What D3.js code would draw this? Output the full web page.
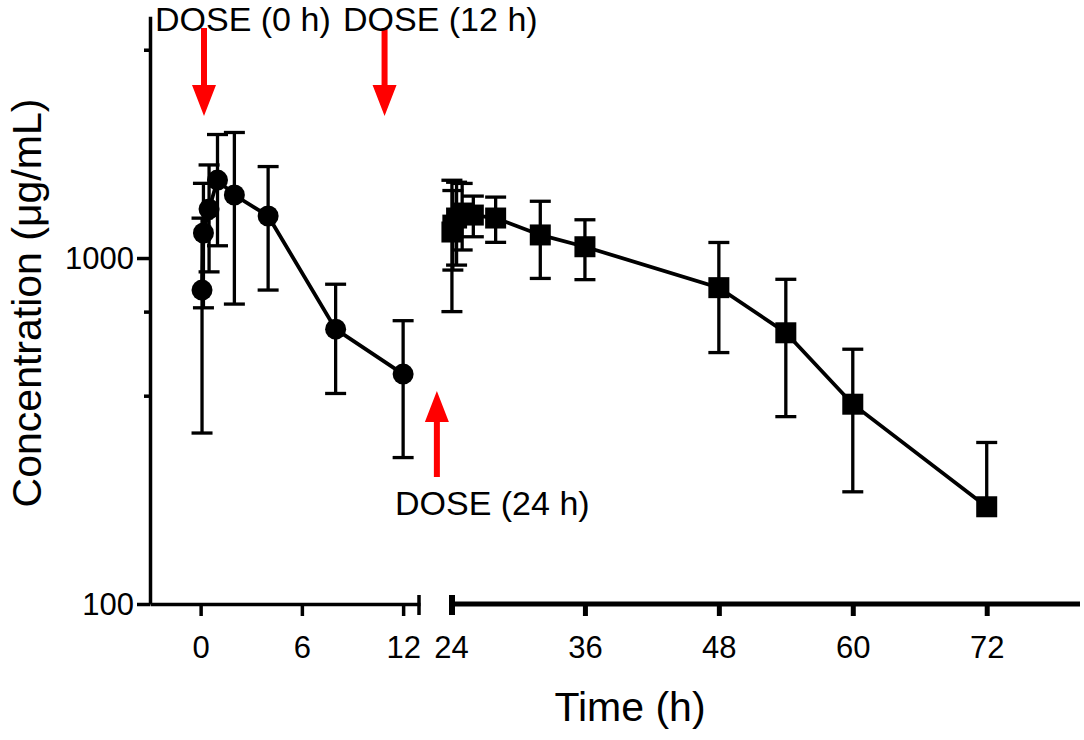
<!DOCTYPE html>
<html>
<head>
    <meta charset="utf-8">
    <script src="https://d3js.org/d3.v7.min.js"></script>
    <style>
        body{
            margin: 0;
            background: #fff;
        }
        svg text{
            font-family: "Liberation Sans", Arial, sans-serif;
            fill: #000;
        }
    </style>
    <title>Concentration vs time</title>
</head>
<body>
    <div class="chart-wrap"></div>

    <script>
    // first dosing interval (0-12 h), circles
    var timeA = [0.083, 0.167, 0.5, 1, 2, 4, 8, 12];
    var concA = [808, 1181, 1385, 1680, 1521, 1323, 623, 462];
    var sdA   = [496, 463, 473, 595, 785, 515, 217, 197];

    // after the 24 h dose, squares
    var timeB = [24.083, 24.167, 24.5, 25, 26, 28, 32, 36, 48, 54, 60, 72];
    var concB = [1189, 1245, 1305, 1349, 1331, 1305, 1166, 1078, 821, 608, 378, 191];
    var sdB   = [489, 322, 351, 294, 179, 195, 293, 212, 288, 260, 167, 102];

    var xTicksA = [0, 6, 12];
    var xTicksB = [24, 36, 48, 60, 72];
    var yMajor = [100, 1000];
    var yMinor = [400, 700, 4000];

    var doseLabels = ["DOSE (0 h)", "DOSE (12 h)", "DOSE (24 h)"];

    var w = 1084,
        h = 740;

    var svg = d3.select(".chart-wrap").append("svg")
        .attr("width", w)
        .attr("height", h);

    var xA = d3.scaleLinear().domain([-3, 13]).range([150, 420]);
    var xB = d3.scaleLinear().domain([24, 80]).range([451, 1076]);
    var y = d3.scaleLog().domain([100, 5000]).range([604, 16.2]);

    var axisW = 3.5;

    // ---- y axis
    var gy = svg.append("g")
        .attr("transform", "translate(150,0)")
        .call(d3.axisLeft(y).tickValues(yMajor).tickFormat(d3.format("d"))
            .tickSize(13).tickSizeOuter(0).tickPadding(3));
    gy.select(".domain").attr("stroke-width", axisW);
    gy.selectAll(".tick line").attr("stroke-width", axisW);
    gy.selectAll(".tick text")
        .style("font-size", "31px")
        .attr("dy", "0.35em");

    var gyMinor = svg.append("g")
        .attr("transform", "translate(150,0)")
        .call(d3.axisLeft(y).tickValues(yMinor).tickFormat("").tickSize(6).tickSizeOuter(0));
    gyMinor.select(".domain").remove();
    gyMinor.selectAll(".tick line").attr("stroke-width", axisW);

    // ---- x axis, left piece
    var gxA = svg.append("g")
        .attr("transform", "translate(0,604)")
        .call(d3.axisBottom(xA).tickValues(xTicksA).tickSize(12).tickSizeOuter(0).tickPadding(20));
    gxA.select(".domain").attr("stroke-width", axisW);
    gxA.selectAll(".tick line").attr("stroke-width", axisW);
    gxA.selectAll(".tick text").style("font-size", "31px");

    // ---- x axis, right piece (thicker, as in the original)
    var gxB = svg.append("g")
        .attr("transform", "translate(0,604)")
        .call(d3.axisBottom(xB).tickValues(xTicksB).tickSize(12).tickSizeOuter(0).tickPadding(20));
    gxB.select(".domain").attr("stroke-width", 5)
        .attr("d", "M" + xB.range()[0] + ",0H" + (xB.range()[1] + 4));
    gxB.selectAll(".tick line").attr("stroke-width", 5)
        .attr("y2", function (d) { return d === 24 ? 0 : 12; });
    gxB.selectAll(".tick text").style("font-size", "31px");

    // break caps
    svg.append("line")
        .attr("x1", xA(13) - 1).attr("x2", xA(13) - 1)
        .attr("y1", 595).attr("y2", 615)
        .attr("stroke", "#000").attr("stroke-width", axisW);
    svg.append("line")
        .attr("x1", xB(24) + 1).attr("x2", xB(24) + 1)
        .attr("y1", 595).attr("y2", 615)
        .attr("stroke", "#000").attr("stroke-width", 6);

    // ---- series
    function series (xs, times, conc, sd, shape) {
        var pts = times.map(function (t, i) {
            return {t: t, c: conc[i], sd: sd[i]};
        });
        var g = svg.append("g");
        var capW = 10.5;
        var lo = y.domain()[0];

        var eb = g.selectAll(".eb").data(pts).enter().append("g")
            .attr("class", "eb")
            .attr("stroke", "#000")
            .attr("stroke-width", 3.3);
        eb.append("line")
            .attr("x1", function (d) { return xs(d.t); })
            .attr("x2", function (d) { return xs(d.t); })
            .attr("y1", function (d) { return y(d.c + d.sd); })
            .attr("y2", function (d) { return d.c - d.sd > lo ? y(d.c - d.sd) : y(d.c); });
        eb.append("line")
            .attr("x1", function (d) { return xs(d.t) - capW; })
            .attr("x2", function (d) { return xs(d.t) + capW; })
            .attr("y1", function (d) { return y(d.c + d.sd); })
            .attr("y2", function (d) { return y(d.c + d.sd); });
        eb.filter(function (d) { return d.c - d.sd > lo; })
            .append("line")
            .attr("x1", function (d) { return xs(d.t) - capW; })
            .attr("x2", function (d) { return xs(d.t) + capW; })
            .attr("y1", function (d) { return y(d.c - d.sd); })
            .attr("y2", function (d) { return y(d.c - d.sd); });

        g.append("path")
            .datum(pts)
            .attr("fill", "none")
            .attr("stroke", "#000")
            .attr("stroke-width", 3.8)
            .attr("d", d3.line()
                .x(function (d) { return xs(d.t); })
                .y(function (d) { return y(d.c); }));

        if (shape === "circle") {
            g.selectAll(".pt").data(pts).enter().append("circle")
                .attr("cx", function (d) { return xs(d.t); })
                .attr("cy", function (d) { return y(d.c); })
                .attr("r", 10.5)
                .attr("fill", "#000");
        } else {
            g.selectAll(".pt").data(pts).enter().append("rect")
                .attr("x", function (d) { return xs(d.t) - 10.5; })
                .attr("y", function (d) { return y(d.c) - 10.5; })
                .attr("width", 21)
                .attr("height", 21)
                .attr("fill", "#000");
        }
    }

    series(xA, timeA, concA, sdA, "circle");
    series(xB, timeB, concB, sdB, "square");

    // ---- dose arrows
    function arrow (x, yTail, yTip) {
        var dir = yTip > yTail ? 1 : -1,
            headL = 31, headW = 12, shaft = 3;
        var yb = yTip - dir * headL;
        var p = "M" + (x - shaft) + "," + yTail +
            "L" + (x + shaft) + "," + yTail +
            "L" + (x + shaft) + "," + yb +
            "L" + (x + headW) + "," + yb +
            "L" + x + "," + yTip +
            "L" + (x - headW) + "," + yb +
            "L" + (x - shaft) + "," + yb + "Z";
        svg.append("path").attr("d", p).attr("fill", "#ff0000");
    }

    arrow(xA(0.2), 28, 116);
    arrow(xA(10.9), 28, 116);
    arrow(xA(14), 477, 391);

    svg.append("text").attr("x", 155).attr("y", 31)
        .style("font-size", "34px").text(doseLabels[0]);
    svg.append("text").attr("x", 343).attr("y", 31)
        .style("font-size", "34px").text(doseLabels[1]);
    svg.append("text").attr("x", 395).attr("y", 515)
        .style("font-size", "34px").text(doseLabels[2]);

    // ---- axis titles
    svg.append("text")
        .attr("transform", "translate(41,303) rotate(-90)")
        .attr("text-anchor", "middle")
        .style("font-size", "41px")
        .text("Concentration (μg/mL)");

    svg.append("text")
        .attr("x", 630)
        .attr("y", 721)
        .attr("text-anchor", "middle")
        .style("font-size", "41px")
        .text("Time (h)");
    </script>
</body>
</html>
